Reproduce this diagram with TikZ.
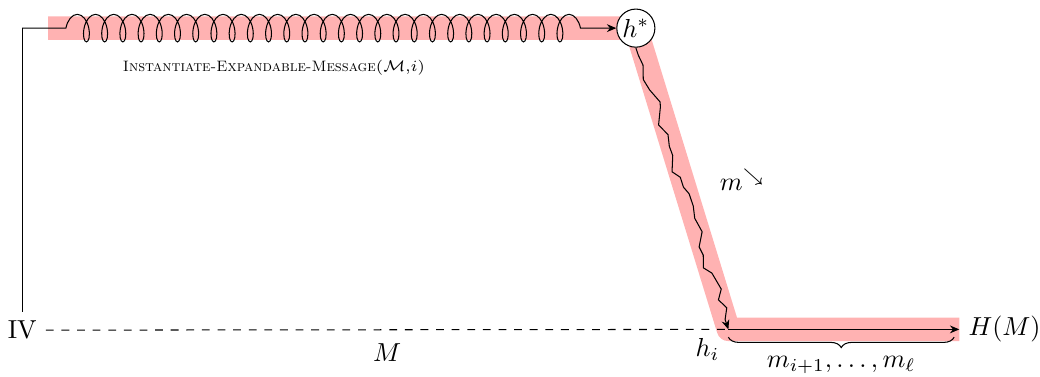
\documentclass[tikz,border=0pt]{standalone}
\usepackage{amsmath}
\usepackage{amssymb}
\usepackage{xcolor}
\usepackage{tikz}
\usetikzlibrary{arrows.meta,calc,positioning,backgrounds,decorations.pathmorphing,decorations.pathreplacing}
\tikzset{
  chain/.style={line width=9pt, draw=red!30, line join=round},
  hashnode/.style={draw, circle, fill=white, inner sep=0.8pt},
  flow/.style={-{Stealth[length=3.6pt, width=3pt]}},
  coilflow/.style={-{Stealth[length=3.6pt, width=3pt]}, decorate, decoration={coil, amplitude=5.3pt, segment length=7pt, pre length=0.59cm, post length=0.38cm}},
  jumpflow/.style={-{Stealth[length=3.6pt, width=3pt]}, decorate, decoration={random steps, segment length=4.5pt, amplitude=2.4pt, pre length=3pt, post length=4pt}},
  padbrace/.style={decorate, decoration={brace, mirror, amplitude=4pt}}
}

\begin{document}
\begin{tikzpicture}[x=1cm,y=1cm]
  \useasboundingbox (0,0) rectangle (14.05,5.08);
  \pgfmathsetseed{7}
  \node (iv) at (0.30,0.62) {IV};
  \node[hashnode] (hstar) at (8.59,4.70) {$h^*$};
  \coordinate (hi) at (9.84,0.63);
  \coordinate (bandstart) at (0.65,4.70);
  \node[right=3.12cm of hi] (hm) {$H(M)$};

  \begin{scope}[on background layer]
    \draw[chain] (bandstart) -- (hstar.center) -- (hi) -- (hm.west);
  \end{scope}

  \draw (iv.north) -- (iv.north |- hstar.west) coordinate (turn);
  \draw[coilflow] (turn) -- (hstar.west);
  \node (inst) at (3.70,4.16) {\fontsize{5.8}{7}\selectfont\textsc{Instantiate-Expandable-Message}($\mathcal{M}$,$i$)};

  \draw[jumpflow] (hstar.south) -- (hi);
  \node (mdir) at (10.03,2.65) {$m^{\searrow}$};

  \draw[dashed] (iv.east) -- (hi) node[midway, below=2pt] (mlab) {$M$};
  \node[below left=0pt of hi] (hilab) {$h_i$};
  \draw[flow] (hi) -- (hm.west);
  \draw[padbrace] ([yshift=-3pt]hi) -- ([xshift=-2pt,yshift=-3pt]hm.west)
    node[midway, below=4pt] (tail) {$m_{i+1},\dots,m_\ell$};
\end{tikzpicture}
\end{document}
